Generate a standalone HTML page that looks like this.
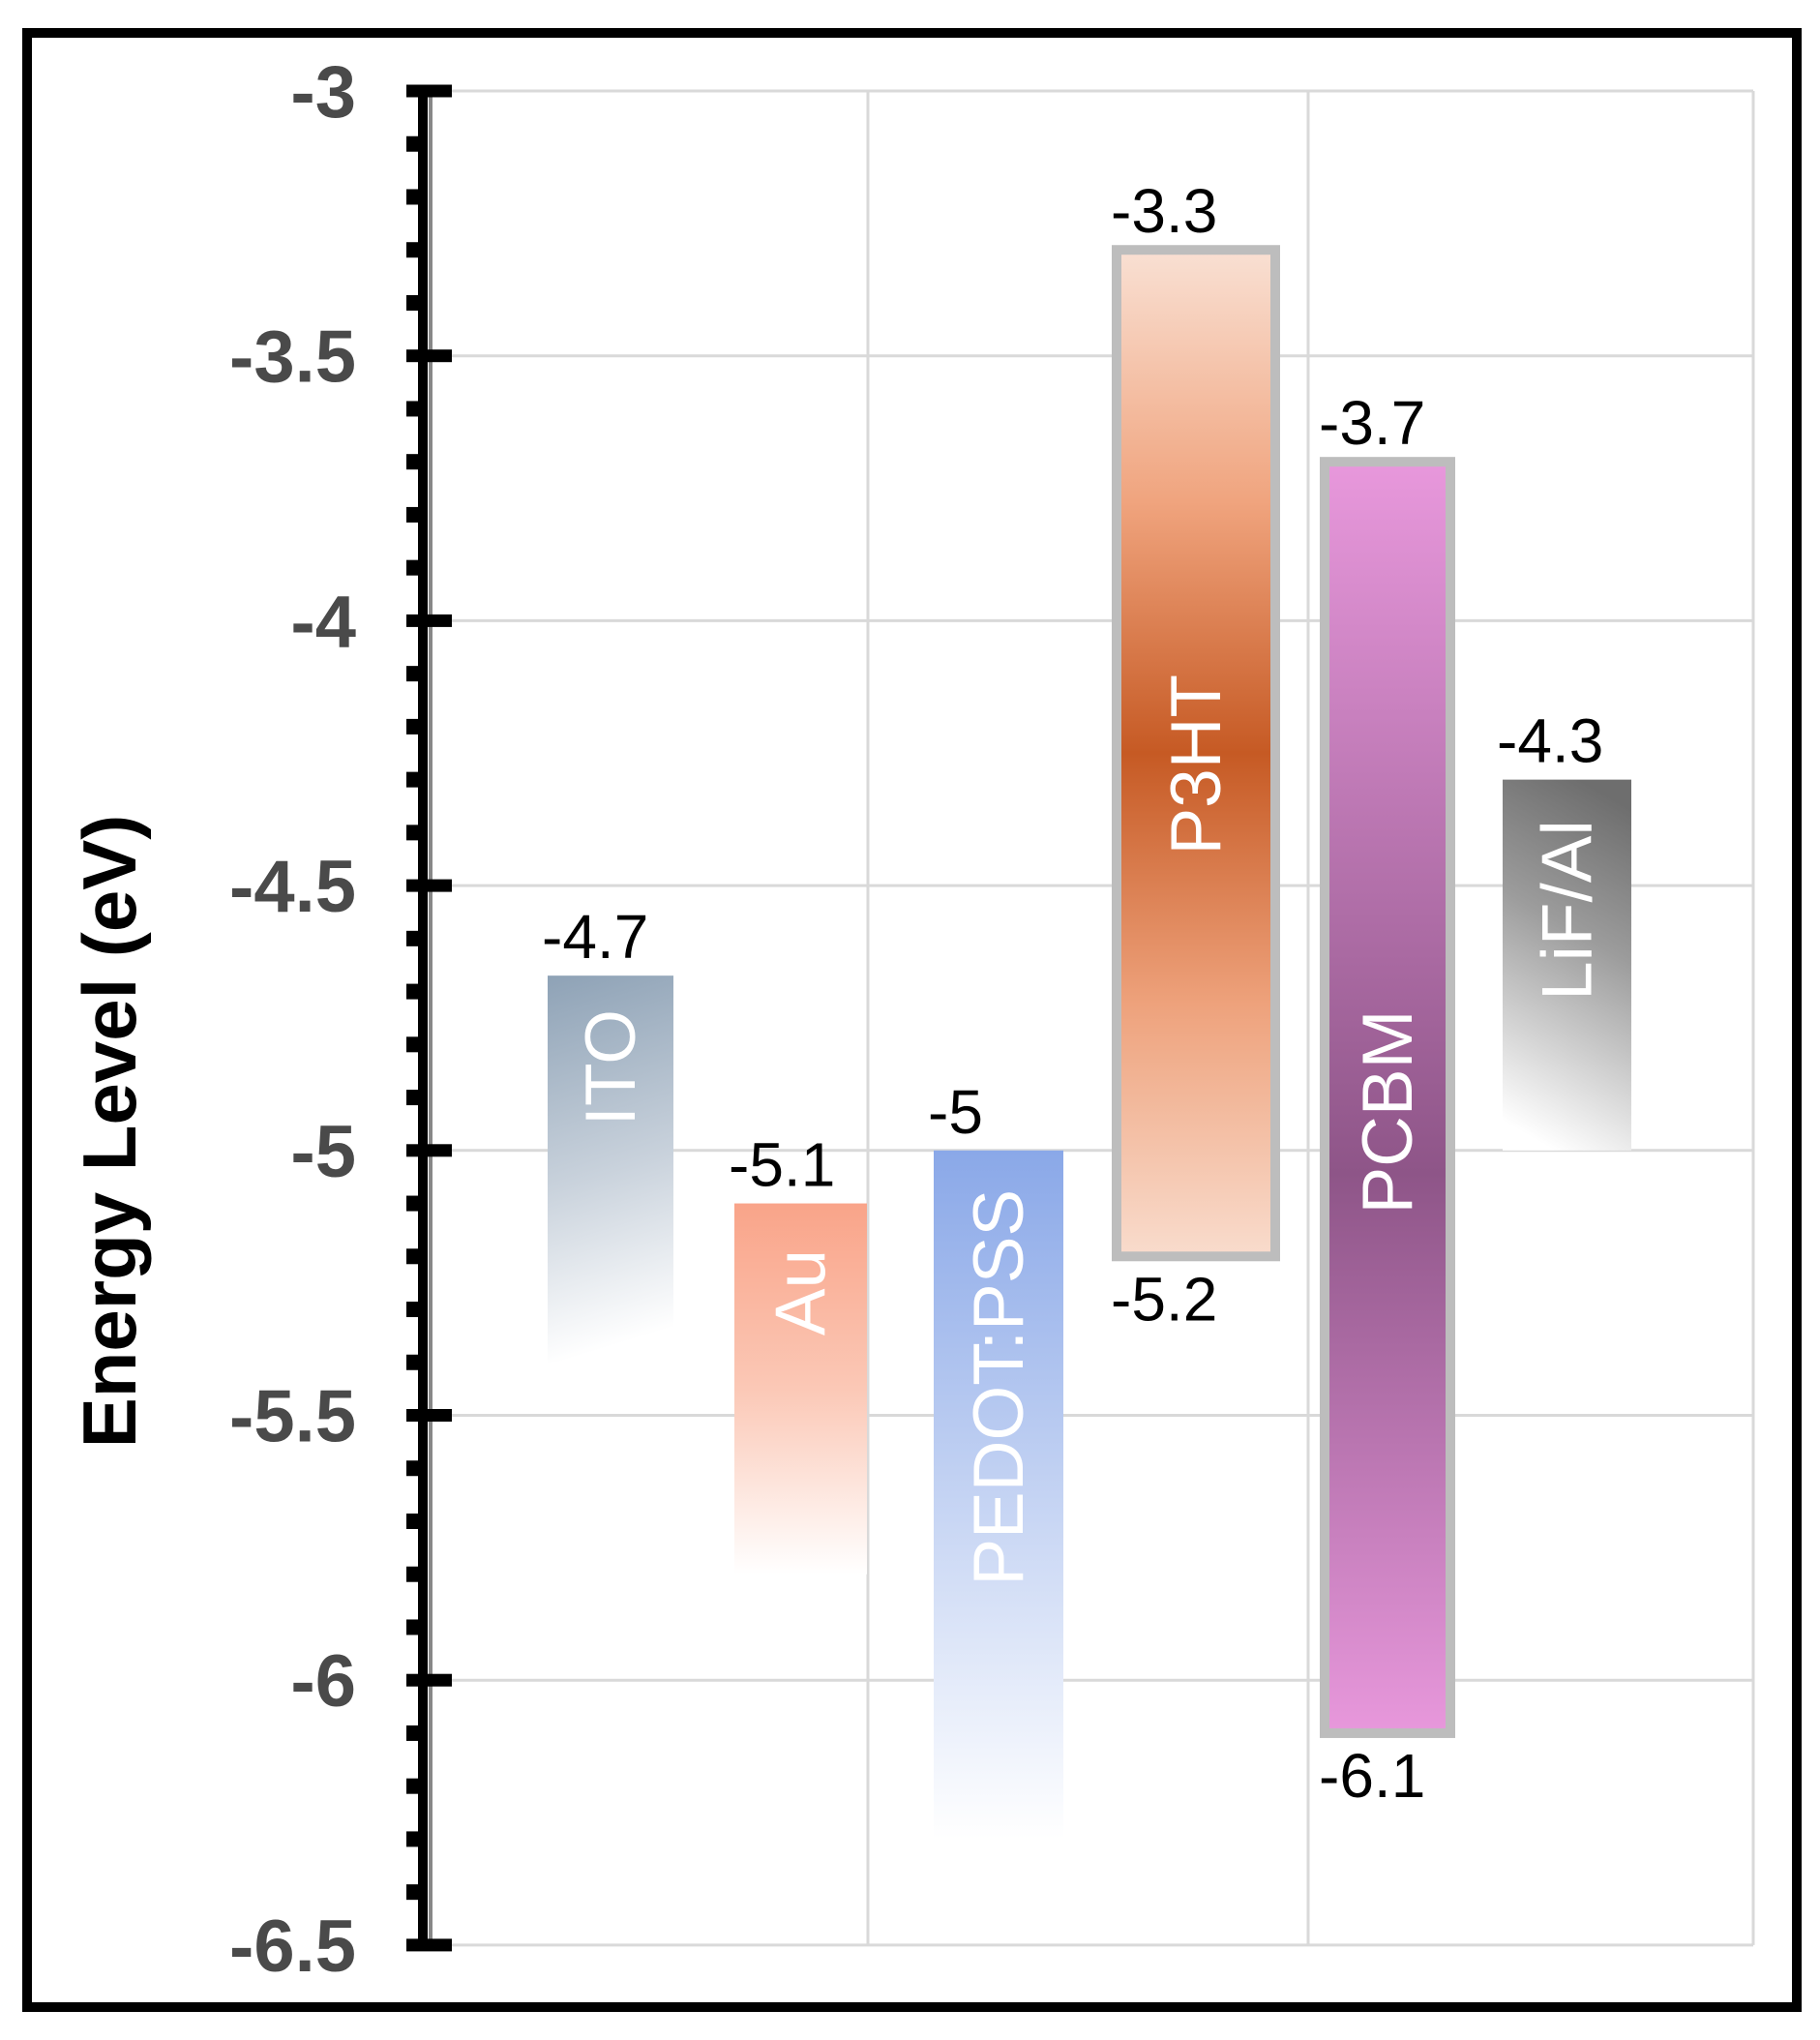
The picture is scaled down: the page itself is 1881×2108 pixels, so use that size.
<!DOCTYPE html>
<html><head><meta charset="utf-8"><style>
html,body{margin:0;padding:0;background:#fff;}
svg{display:block;font-family:"Liberation Sans",Arial,sans-serif;}
</style></head><body>
<svg id="chart" width="1881" height="2108" viewBox="0 0 1881 2108" xmlns="http://www.w3.org/2000/svg">
<defs>
<linearGradient id="g-ito" x1="0" y1="0" x2="0.1" y2="1"><stop offset="0" stop-color="#8ea2b6"/><stop offset="0.55" stop-color="#c9d2dc"/><stop offset="1" stop-color="#ffffff"/></linearGradient>
<linearGradient id="g-au" x1="0" y1="0" x2="0" y2="1"><stop offset="0" stop-color="#f9a489"/><stop offset="0.5" stop-color="#fbc8b6"/><stop offset="1" stop-color="#ffffff"/></linearGradient>
<linearGradient id="g-pedot" x1="0" y1="0" x2="0" y2="1"><stop offset="0" stop-color="#8aa8e8"/><stop offset="0.5" stop-color="#c4d3f3"/><stop offset="1" stop-color="#ffffff"/></linearGradient>
<linearGradient id="g-p3ht" x1="0" y1="0" x2="0" y2="1"><stop offset="0" stop-color="#f9e0d3"/><stop offset="0.25" stop-color="#f0a47e"/><stop offset="0.5" stop-color="#c65a24"/><stop offset="0.75" stop-color="#eea27c"/><stop offset="1" stop-color="#f9dccd"/></linearGradient>
<linearGradient id="g-pcbm" x1="0" y1="0" x2="0" y2="1"><stop offset="0" stop-color="#e898dc"/><stop offset="0.56" stop-color="#8e5588"/><stop offset="1" stop-color="#e898dc"/></linearGradient>
<linearGradient id="g-lif" x1="0.6" y1="0" x2="0.4" y2="1"><stop offset="0" stop-color="#6e6e6e"/><stop offset="0.4" stop-color="#9c9c9c"/><stop offset="1" stop-color="#ffffff"/></linearGradient>
</defs>
<rect x="28" y="34" width="1829" height="2040" fill="none" stroke="#000" stroke-width="10"/>
<g id="grid"></g>
<g id="bars"></g>
<g id="axis"></g>
<text x="0" y="0" transform="translate(140,1169) rotate(-90)" text-anchor="middle" font-weight="bold" font-size="78" fill="#000">Energy Level (eV)</text>
</svg>
<script>
const materials=["ITO","Au","PEDOT:PSS","P3HT","PCBM","LiF/Al"];
const topValues=[-4.67,-5.1,-5.0,-3.3,-3.7,-4.3];
const bottomValues=[-5.4,-5.8,-6.3,-5.2,-6.1,-5.0];
const topLabels=["-4.7","-5.1","-5","-3.3","-3.7","-4.3"];
const bottomLabels=["","","","-5.2","-6.1",""];
const yTicks=[-3,-3.5,-4,-4.5,-5,-5.5,-6,-6.5];
const yTickLabels=["-3","-3.5","-4","-4.5","-5","-5.5","-6","-6.5"];

const NS="http://www.w3.org/2000/svg";
const Y0=94, PX=547.4;
function y(v){return Y0+(-3-v)*PX;}
const slotX=[566,759,965,1154,1369,1553];
const slotW=[130,137,134,164,130,133];
const fills=["url(#g-ito)","url(#g-au)","url(#g-pedot)","url(#g-p3ht)","url(#g-pcbm)","url(#g-lif)"];
const bordered=[false,false,false,true,true,false];
function mk(tag,attrs,parent){const e=document.createElementNS(NS,tag);for(const k in attrs)e.setAttribute(k,attrs[k]);parent.appendChild(e);return e;}

const grid=document.getElementById('grid');
yTicks.forEach((t,i)=>{
  const l=mk('line',{x1:440,x2:1812,y1:y(t),y2:y(t),stroke:'#d9d9d9','stroke-width':3},grid);
  
  
});
[897,1352,1812].forEach((gx,i)=>{
  const l=mk('line',{x1:gx,x2:gx,y1:y(-3),y2:y(-6.5),stroke:'#d9d9d9','stroke-width':3},grid);
  
  
});

const bars=document.getElementById('bars');
materials.forEach((m,i)=>{
  const yt=y(topValues[i]), yb=y(bottomValues[i]);
  const r=mk('rect',{x:slotX[i],y:yt,width:slotW[i],height:yb-yt,fill:fills[i]},bars);
  if(bordered[i]){r.setAttribute('stroke','#bdbdbd');r.setAttribute('stroke-width','10');}
  
  
  const cx=slotX[i]+slotW[i]/2;
  const cy=(m==="ITO")?yt+95:(m==="Au")?yt+92:(m==="PEDOT:PSS")?yt+245:(m==="P3HT")?(yt+yb)/2+12:(m==="PCBM")?(yt+yb)/2+15:yt+135;
  const t=mk('text',{x:0,y:0,transform:`translate(${cx+25},${cy}) rotate(-90)`,'text-anchor':'middle','font-size':73,fill:'#fff'},bars);
  t.textContent=m;
  
  
  const tl=mk('text',{x:slotX[i]-6,y:yt-18,'font-size':64,fill:'#000'},bars);
  tl.textContent=topLabels[i];
  
  
  if(bottomLabels[i]){
    const bl=mk('text',{x:slotX[i]-6,y:yb+66,'font-size':64,fill:'#000'},bars);
    bl.textContent=bottomLabels[i];
    
    
  }
});

const axis=document.getElementById('axis');
const shadow=mk('line',{x1:445,x2:445,y1:y(-3),y2:y(-6.5),stroke:'#888','stroke-width':4},axis);


const al=mk('line',{x1:437,x2:437,y1:y(-3),y2:y(-6.5),stroke:'#000','stroke-width':10},axis);


for(let k=0;k<=35;k++){
  const v=-3-k*0.1;
  const major=(k%5===0);
  const tk=mk('rect',{x:420,y:y(v)-(major?6.5:8),width:major?47:18,height:major?13:16,fill:'#000'},axis);
  
  
}
yTicks.forEach((t,i)=>{
  const tx=mk('text',{x:368,y:y(t)+27,'text-anchor':'end','font-size':76,'font-weight':'bold',fill:'#4a4a4a'},axis);
  tx.textContent=yTickLabels[i];
  
  
});
</script>
</body></html>
